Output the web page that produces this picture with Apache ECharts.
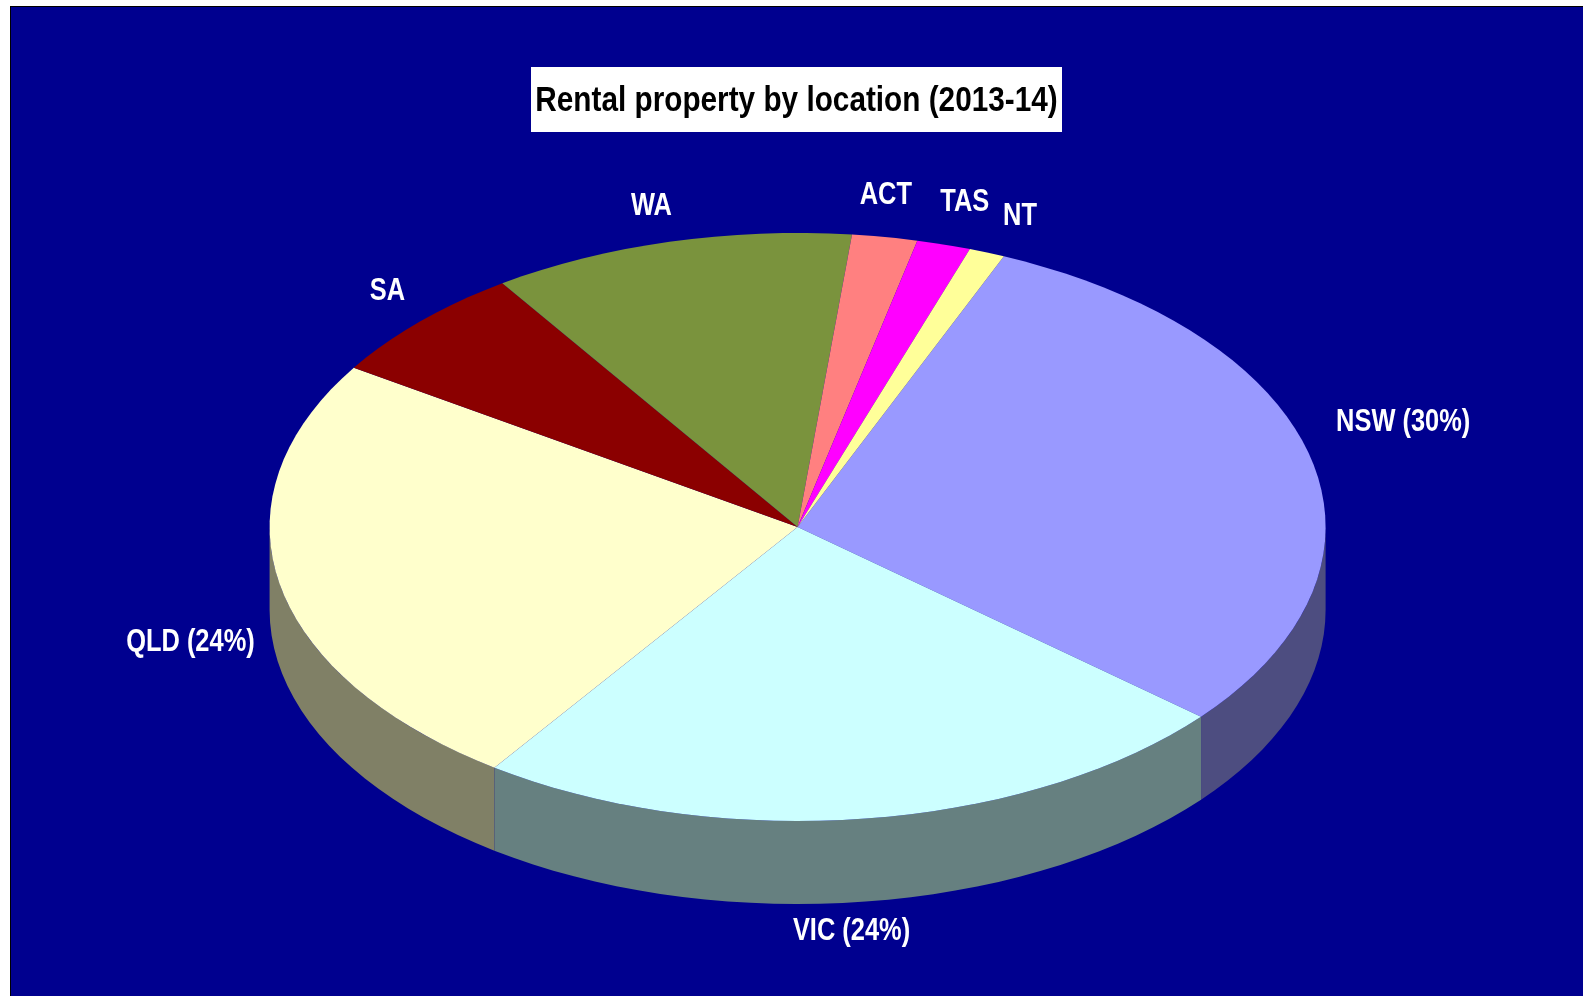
<!DOCTYPE html>
<html>
<head>
<meta charset="utf-8">
<title>Rental property by location</title>
<script src="https://cdn.jsdelivr.net/npm/echarts@6/dist/echarts.min.js"></script>
<style>
  html, body { margin: 0; padding: 0; background: #fff; }
  #chart { width: 1583px; height: 996px; }
</style>
</head>
<body>
<div id="chart"></div>
<script>
var states = ['NSW', 'VIC', 'QLD', 'SA', 'WA', 'ACT', 'TAS', 'NT'];
var shares = [29.8, 23.6, 24.4, 6.45, 11.1, 2.0, 1.65, 1.1];
var labels = ['NSW (30%)', 'VIC (24%)', 'QLD (24%)', 'SA', 'WA', 'ACT', 'TAS', 'NT'];
var titleText = 'Rental property by location (2013-14)';

var topColors = ['#9999ff', '#ccffff', '#ffffcc', '#8b0000', '#7a933d', '#ff8080', '#ff00ff', '#ffff99'];
var sideColors = ['#4d4d80', '#668080', '#808066', '#460000', '#3d4a1f', '#804040', '#800080', '#80804d'];
// label shift from the rim point at the middle of each slice
var labelShift = [[92, -36], [-14, 113], [-89, 59], [-33, -30], [-18, -35], [1, -42], [21, -42], [33, -36]];

// the pie is a tilted disc, so it is an ellipse and not a normal pie series
var cx = 797.6, cy = 527, rx = 528, ry = 294, depth = 83;
var startAngle = 23;
// no narrow font here, so Liberation Sans gets squeezed sideways
var font = 'Liberation Sans';
var squeeze = 0.82;

var total = shares.reduce(function (a, b) { return a + b; }, 0);

function rim(angle, dy) {
  var r = angle * Math.PI / 180;
  return [cx + rx * Math.sin(r), cy - ry * Math.cos(r) + (dy || 0)];
}

function arc(from, to, dy) {
  var pts = [];
  var n = Math.max(2, Math.ceil((to - from) / 2.5));
  for (var i = 0; i <= n; i++) {
    pts.push(rim(from + (to - from) * i / n, dy));
  }
  return pts;
}

function renderSlice(params, api) {
  var before = 0;
  for (var i = 0; i < params.dataIndex; i++) {
    before += shares[i];
  }
  var from = startAngle + before / total * 360;
  var to = from + api.value(0) / total * 360;
  var color = topColors[params.dataIndex];
  var children = [];

  // side wall, only the front half of the disc shows it
  var wallFrom = Math.max(from, 90), wallTo = Math.min(to, 270);
  if (wallTo > wallFrom) {
    children.push({
      type: 'polygon',
      shape: { points: arc(wallFrom, wallTo, 0).concat(arc(wallFrom, wallTo, depth).reverse()) },
      style: { fill: sideColors[params.dataIndex] }
    });
  }

  children.push({
    type: 'polygon',
    shape: { points: [[cx, cy]].concat(arc(from, to, 0)) },
    style: { fill: color }
  });

  var mid = rim((from + to) / 2, 0);
  var shift = labelShift[params.dataIndex];
  children.push({
    type: 'text',
    z2: 10,
    x: mid[0] + shift[0],
    y: mid[1] + shift[1],
    scaleX: squeeze,
    style: {
      text: labels[params.dataIndex],
      x: 0,
      y: 0,
      align: 'center',
      verticalAlign: 'middle',
      fill: '#fff',
      fontFamily: font,
      fontWeight: 'bold',
      fontSize: 31
    }
  });

  return { type: 'group', children: children };
}

var chart = echarts.init(document.getElementById('chart'), null, { renderer: 'canvas' });
chart.setOption({
  animation: false,
  backgroundColor: '#fff',
  graphic: [
    { type: 'rect', z: -10, shape: { x: 10, y: 6, width: 1573, height: 990 }, style: { fill: '#000' } },
    { type: 'rect', z: -9, shape: { x: 11, y: 7, width: 1572, height: 989 }, style: { fill: '#00008f' } },
    { type: 'rect', z: 5, shape: { x: 531, y: 67, width: 531, height: 65 }, style: { fill: '#fff' } },
    {
      type: 'text',
      z: 6,
      x: 796.5,
      y: 101.5,
      scaleX: 0.85,
      style: {
        text: titleText,
        x: 0,
        y: 0,
        align: 'center',
        verticalAlign: 'middle',
        fill: '#000',
        fontFamily: font,
        fontWeight: 'bold',
        fontSize: 35
      }
    }
  ],
  series: [{
    type: 'custom',
    coordinateSystem: 'none',
    silent: true,
    renderItem: renderSlice,
    data: states.map(function (name, i) {
      return { name: name, value: [shares[i]] };
    })
  }]
});
</script>
</body>
</html>
